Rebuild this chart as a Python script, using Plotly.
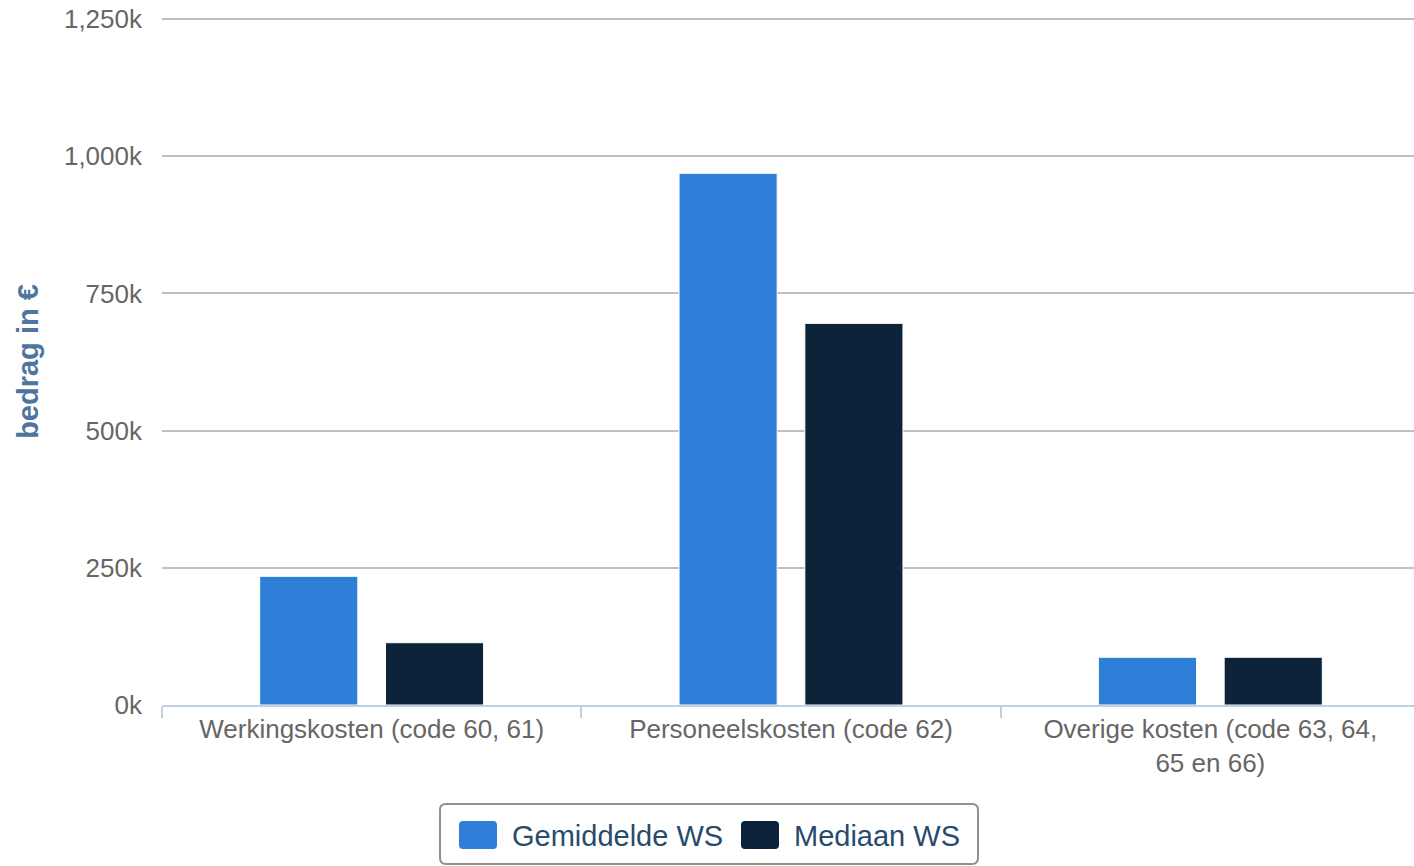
import plotly.graph_objects as go

categories = ["Werkingskosten (code 60, 61)", "Personeelskosten (code 62)", "Overige kosten (code 63, 64,<br>65 en 66)"]
gemiddelde = [234500, 969000, 87000]
mediaan = [113500, 695500, 87000]
series_names = ["Gemiddelde WS", "Mediaan WS"]
series_colors = ["#2f7ed8", "#0d233a"]
tick_vals = [0, 250000, 500000, 750000, 1000000, 1250000]
tick_text = ["0k", "250k", "500k", "750k", "1,000k", "1,250k"]

FONT = "Liberation Sans, Arial, Helvetica, sans-serif"
W, H = 1420, 866
ML, MR, MT, MB = 162, 0, 18, 161
PW, PH = W - ML - MR, H - MT - MB


def px_x(px):
    return (px - ML) / PW


def px_y(py):
    return (H - MB - py) / PH


def rounded_rect(x0, y0, x1, y1, r):
    rx, ry = r / PW, r / PH
    X0, X1 = px_x(x0), px_x(x1)
    Y0, Y1 = px_y(y1), px_y(y0)  # bottom, top in paper
    return (f"M {X0+rx},{Y1} L {X1-rx},{Y1} Q {X1},{Y1} {X1},{Y1-ry} "
            f"L {X1},{Y0+ry} Q {X1},{Y0} {X1-rx},{Y0} L {X0+rx},{Y0} "
            f"Q {X0},{Y0} {X0},{Y0+ry} L {X0},{Y1-ry} Q {X0},{Y1} {X0+rx},{Y1} Z")


fig = go.Figure()
for name, vals, col in zip(series_names, [gemiddelde, mediaan], series_colors):
    fig.add_trace(go.Bar(x=categories, y=vals, name=name, showlegend=False,
                         marker=dict(color=col, line=dict(color="#ffffff", width=1))))

# Legend drawn as shapes + text (Highcharts-style boxed legend)
shapes = [dict(type="path", xref="paper", yref="paper", path=rounded_rect(440, 804, 978, 864, 6),
               line=dict(color="#909090", width=2), fillcolor="rgba(0,0,0,0)", layer="above")]
annotations = []
legend_items = [(459, 510), (741, 792)]
for (sx, tx), name, col in zip(legend_items, series_names, series_colors):
    shapes.append(dict(type="path", xref="paper", yref="paper",
                       path=rounded_rect(sx, 821, sx + 38, 849, 4),
                       line=dict(width=0), fillcolor=col, layer="above"))
    annotations.append(dict(x=px_x(tx), y=px_y(836), xref="paper", yref="paper",
                            text=name, showarrow=False, xanchor="left", yanchor="middle",
                            font=dict(family=FONT, size=29, color="#274b6d")))

fig.update_layout(
    width=W, height=H,
    margin=dict(l=ML, r=MR, t=MT, b=MB, autoexpand=False),
    paper_bgcolor="white", plot_bgcolor="white",
    barmode="group", bargap=0.4, bargroupgap=0.22,
    font=dict(family=FONT, size=26, color="#666666"),
    showlegend=False,
    shapes=shapes, annotations=annotations,
    xaxis=dict(showline=True, linecolor="#c0d0e0", linewidth=2, automargin=False,
               ticks="outside", tickson="boundaries", ticklen=11, tickcolor="#c0d0e0", tickwidth=2,
               tickfont=dict(family=FONT, size=26, color="#666666"),
               showgrid=False, fixedrange=True),
    yaxis=dict(range=[0, 1252000], tickvals=tick_vals, ticktext=tick_text, automargin=False,
               showgrid=True, gridcolor="#c0c0c0", gridwidth=2,
               zeroline=False, showline=False, ticks="",
               ticklabelstandoff=19,
               tickfont=dict(family=FONT, size=26, color="#666666"),
               title=dict(text="<b>bedrag in €</b>", standoff=16,
                          font=dict(family=FONT, size=29, color="#4d759e"))),
)

fig.write_html("out.html", config={"displayModeBar": False},
               post_script="document.body.style.margin='0';document.body.style.overflow='hidden';")
